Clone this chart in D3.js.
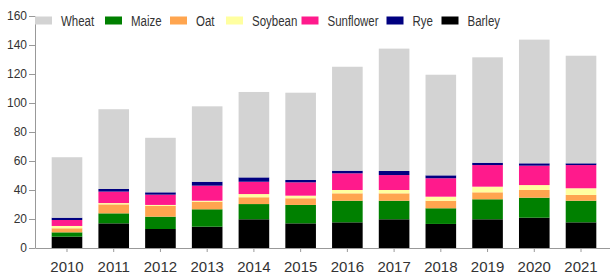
<!DOCTYPE html>
<html>
<head>
<meta charset="utf-8">
<script src="https://cdn.jsdelivr.net/npm/d3@7"></script>
<style>
  body { margin: 0; background: #fff; }
  svg { display: block; font-family: "Liberation Sans", Arial, sans-serif; }
  .axis path, .axis line { stroke: #999; }
  .axis text { fill: #333; }
  .legend text { fill: #333; }
</style>
</head>
<body>
<svg id="chart" width="610" height="274"></svg>
<script>
// Values (stack bottom -> top)
const years = ["2010", "2011", "2012", "2013", "2014", "2015", "2016", "2017", "2018", "2019", "2020", "2021"];
const barley    = [7.8, 17.0, 13.1, 14.7, 19.8, 17.0, 17.7, 19.8, 16.6, 19.8, 20.9, 17.7];
const maize     = [3.0, 6.9, 8.5, 12.0, 10.5, 12.7, 14.9, 12.8, 10.8, 13.8, 13.8, 14.9];
const oat       = [2.8, 6.2, 7.4, 5.2, 4.7, 4.6, 5.1, 5.1, 5.2, 4.8, 5.3, 4.0];
const soybean   = [1.6, 0.9, 0.7, 0.7, 2.2, 1.8, 2.3, 2.3, 2.8, 3.9, 3.4, 4.6];
const sunflower = [4.1, 7.9, 7.1, 10.4, 8.5, 9.2, 11.5, 10.3, 12.7, 14.9, 13.4, 16.0];
const rye       = [1.6, 1.8, 1.6, 2.7, 3.0, 1.6, 1.8, 2.8, 2.0, 1.6, 1.6, 1.2];
const wheat     = [41.7, 55.0, 37.6, 52.0, 58.9, 60.2, 71.7, 84.4, 69.4, 72.7, 85.3, 74.2];

const yTicks = [0, 20, 40, 60, 80, 100, 120, 140, 160];
const legendOrder = ["Wheat", "Maize", "Oat", "Soybean", "Sunflower", "Rye", "Barley"];
const stackOrder = ["Barley", "Maize", "Oat", "Soybean", "Sunflower", "Rye", "Wheat"];

const colors = {
  Wheat: "#d3d3d3",
  Maize: "#008000",
  Oat: "#ffa54f",
  Soybean: "#ffffa0",
  Sunflower: "#ff1a8c",
  Rye: "#000080",
  Barley: "#000000"
};

const series = { Barley: barley, Maize: maize, Oat: oat, Soybean: soybean, Sunflower: sunflower, Rye: rye, Wheat: wheat };

// build rows for d3.stack
const rows = years.map((y, i) => {
  const r = { year: y };
  stackOrder.forEach(k => r[k] = series[k][i]);
  return r;
});

const svg = d3.select("#chart");

const x = d3.scaleBand()
  .domain(years)
  .range([35, 613])
  .paddingInner(0.345)
  .paddingOuter(0.357);

const y = d3.scaleLinear()
  .domain([0, 160])
  .range([248, 16]);

// stacked bars
const stacked = d3.stack().keys(stackOrder)(rows);

svg.append("g")
  .selectAll("g")
  .data(stacked)
  .join("g")
  .attr("fill", d => colors[d.key])
  .selectAll("rect")
  .data(d => d)
  .join("rect")
  .attr("x", d => x(d.data.year))
  .attr("width", x.bandwidth())
  .attr("y", d => y(d[1]))
  .attr("height", d => y(d[0]) - y(d[1]));

// y axis
const yAxis = d3.axisLeft(y)
  .tickValues(yTicks)
  .tickSize(6)
  .tickSizeOuter(0)
  .tickPadding(2);

svg.append("g")
  .attr("class", "axis y-axis")
  .attr("transform", "translate(35,0)")
  .call(yAxis)
  .call(g => g.selectAll("text").style("font-size", "12px"));

// x axis
const xAxis = d3.axisBottom(x)
  .tickSize(4)
  .tickSizeOuter(0)
  .tickPadding(9);

svg.append("g")
  .attr("class", "axis x-axis")
  .attr("transform", "translate(0,248)")
  .call(xAxis)
  .call(g => g.selectAll("text").style("font-size", "15px"));

// legend - item positions match the original layout,
// text squeezed horizontally since the original uses a narrow face
const legendX = [35, 105, 170, 226, 301.5, 386.5, 441.5];
const squeeze = 0.82;
const legend = svg.append("g").attr("class", "legend");
legendOrder.forEach((k, i) => {
  const item = legend.append("g").attr("transform", `translate(${legendX[i]},0)`);
  item.append("rect")
    .attr("x", 0)
    .attr("y", 16.5)
    .attr("width", 17)
    .attr("height", 8)
    .attr("fill", colors[k]);
  item.append("text")
    .attr("transform", `translate(26,26) scale(${squeeze},1)`)
    .style("font-size", "14px")
    .text(k);
});
</script>
</body>
</html>
